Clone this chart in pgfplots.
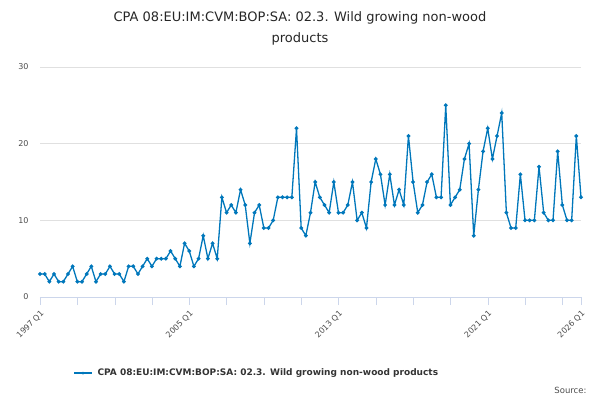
\documentclass[border=0pt]{standalone}
\usepackage{pgfplots}
\pgfplotsset{compat=1.18}
\usepackage{fontspec}
\setmainfont{DejaVu Sans}
\definecolor{ln}{HTML}{0077BB}
\definecolor{tk}{HTML}{CCD6EB}
\begin{document}
\begin{tikzpicture}
\begin{axis}[at={(40pt,103pt)},anchor=south west,scale only axis,width=541pt,height=230pt,
 xmin=0,xmax=116,ymin=0,ymax=30,ytick={0,10,20,30},
 ymajorgrids,grid style={draw=black!12},
 axis line style={draw=none},
 xtick={0,8,16,24,32,40,48,56,64,72,80,88,96,104,112,116},
 xticklabels={1997 Q1,,,,2005 Q1,,,,2013 Q1,,,,2021 Q1,,,2026 Q1},
 x tick label style={rotate=45,anchor=north east,font=\fontsize{8}{9}\selectfont,text=black!70},
 y tick label style={font=\fontsize{8}{9}\selectfont,text=black!70},
 /pgf/number format/assume math mode=true,
 major tick length=8pt,
 xtick style={draw=tk},ytick style={draw=none},
 tick align=outside, xtick pos=bottom,
 clip=false]
\draw[tk] (axis cs:0,0) -- (axis cs:116,0);
\addplot[ln,line width=1.3pt,mark=*,mark size=1.2pt] table[x expr=\coordindex,y index=0,header=false] {
3
3
2
3
2
2
3
4
2
2
3
4
2
3
3
4
3
3
2
4
4
3
4
5
4
5
5
5
6
5
4
7
6
4
5
8
5
7
5
13
11
12
11
14
12
7
11
12
9
9
10
13
13
13
13
22
9
8
11
15
13
12
11
15
11
11
12
15
10
11
9
15
18
16
12
16
12
14
12
21
15
11
12
15
16
13
13
25
12
13
14
18
20
8
14
19
22
18
21
24
11
9
9
16
10
10
10
17
11
10
10
19
12
10
10
21
13
};
\end{axis}
\node[font=\fontsize{13}{15}\selectfont,text=black!85] at (300pt,382pt) {CPA 08:EU:IM:CVM:BOP:SA: 02.3. Wild growing non-wood};
\node[font=\fontsize{13}{15}\selectfont,text=black!85] at (300pt,361pt) {products};
\draw[ln,line width=1.3pt] (74pt,27pt) -- (92pt,27pt);
\fill[ln] (83pt,27pt) circle (1.5pt);
\node[anchor=west,font=\bfseries\fontsize{9}{11}\selectfont,text=black!80] at (94pt,27pt) {CPA 08:EU:IM:CVM:BOP:SA: 02.3. Wild growing non-wood products};
\node[anchor=east,font=\fontsize{8.5}{10}\selectfont,text=black!70] at (590pt,10pt) {Source:};
\pgfresetboundingbox
\path[use as bounding box] (0pt,0pt) rectangle (600pt,400pt);
\end{tikzpicture}
\end{document}
